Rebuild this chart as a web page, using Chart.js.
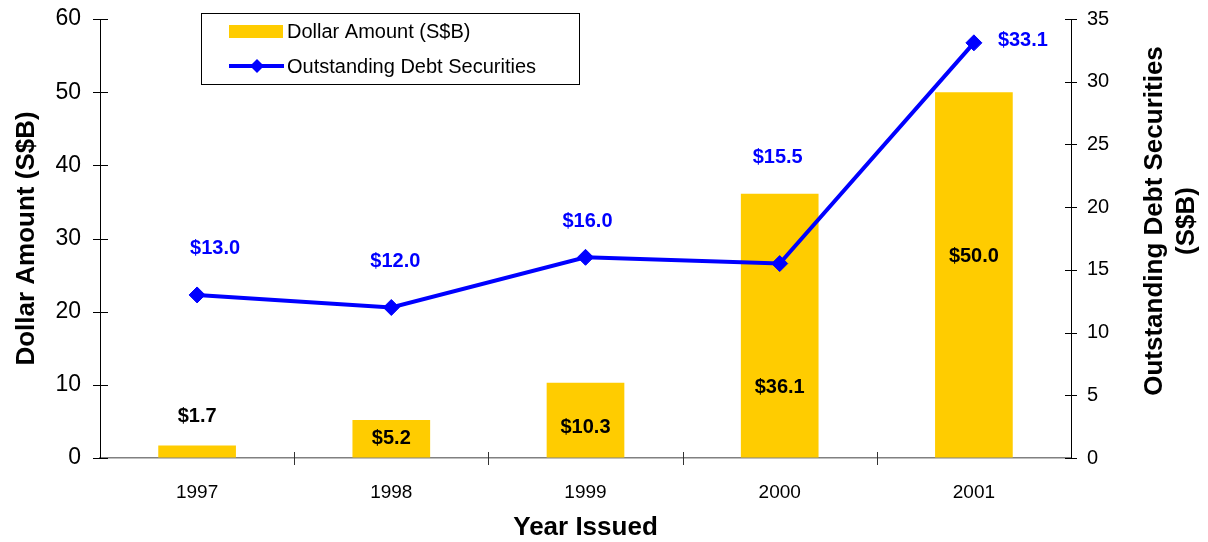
<!DOCTYPE html>
<html>
<head>
<meta charset="utf-8">
<script src="https://cdn.jsdelivr.net/npm/chart.js@4.4.1/dist/chart.umd.min.js"></script>
<style>
  html, body { margin: 0; padding: 0; background: #fff; }
  #wrap { width: 1208px; height: 542px; position: relative; }
</style>
</head>
<body>
<div id="wrap"><canvas id="chart"></canvas></div>
<script>
const FONT = "'Liberation Sans', Arial, sans-serif";

const years = ["1997", "1998", "1999", "2000", "2001"];
const dollarAmount = [1.7, 5.2, 10.3, 36.1, 50.0];
const outstandingDebt = [13.0, 12.0, 16.0, 15.5, 33.1];
const leftTicks = [0, 10, 20, 30, 40, 50, 60];
const rightTicks = [0, 5, 10, 15, 20, 25, 30, 35];

// where the value labels sit (bar labels: left-axis units, line labels: px offset)
const barLabelAt = [5.7, 2.7, 4.2, 9.6, 27.5];
const lineLabelShift = [[18, -46], [4, -46], [2, -36], [-2, -106], [49, -2]];

const COLORS = {
  bar: "#FFCC00",
  line: "#0000FF",
  text: "#000000",
  xAxis: "#808080"
};

const fmt = v => "$" + v.toFixed(1);

const extras = {
  id: "extras",
  afterDraw(chart) {
    const ctx = chart.ctx;
    const { left, right, top, bottom } = chart.chartArea;
    const yL = chart.scales.y;
    const yR = chart.scales.y1;
    ctx.save();

    // ticks crossing the axis lines
    ctx.lineWidth = 1;
    ctx.strokeStyle = "#000";
    ctx.beginPath();
    leftTicks.forEach(v => {
      const y = Math.round(yL.getPixelForValue(v)) + 0.5;
      ctx.moveTo(left - 7, y); ctx.lineTo(left + 8, y);
    });
    rightTicks.forEach(v => {
      const y = Math.round(yR.getPixelForValue(v)) + 0.5;
      ctx.moveTo(right - 6, y); ctx.lineTo(right + 6, y);
    });
    ctx.stroke();
    ctx.strokeStyle = "#333";
    ctx.beginPath();
    const step = (right - left) / years.length;
    for (let i = 1; i < years.length; i++) {
      const x = Math.round(left + i * step) + 0.5;
      ctx.moveTo(x, bottom - 6); ctx.lineTo(x, bottom + 7);
    }
    ctx.stroke();

    // value labels
    ctx.textAlign = "center";
    ctx.textBaseline = "middle";
    ctx.font = "bold 20px " + FONT;
    ctx.fillStyle = COLORS.text;
    chart.getDatasetMeta(1).data.forEach((bar, i) => {
      ctx.fillText(fmt(dollarAmount[i]), bar.x, yL.getPixelForValue(barLabelAt[i]));
    });
    ctx.fillStyle = COLORS.line;
    chart.getDatasetMeta(0).data.forEach((pt, i) => {
      const [dx, dy] = lineLabelShift[i];
      ctx.fillText(fmt(outstandingDebt[i]), pt.x + dx, pt.y + dy);
    });

    // axis titles
    ctx.fillStyle = COLORS.text;
    ctx.font = "bold 26px " + FONT;
    ctx.fillText("Year Issued", (left + right) / 2, 528);
    ctx.save();
    ctx.translate(27, (top + bottom) / 2);
    ctx.rotate(-Math.PI / 2);
    ctx.fillText("Dollar Amount (S$B)", 0, 0);
    ctx.restore();
    ctx.save();
    ctx.translate(1155, 221);
    ctx.rotate(-Math.PI / 2);
    ctx.fillText("Outstanding Debt Securities", 0, 0);
    ctx.fillText("(S$B)", 0, 32);
    ctx.restore();

    // legend
    ctx.strokeStyle = "#000";
    ctx.lineWidth = 1;
    ctx.strokeRect(201.5, 13.5, 378, 71);
    ctx.fillStyle = COLORS.bar;
    ctx.fillRect(229, 25, 54, 13);
    ctx.strokeStyle = COLORS.line;
    ctx.lineWidth = 4;
    ctx.beginPath();
    ctx.moveTo(229, 66); ctx.lineTo(284, 66);
    ctx.stroke();
    ctx.fillStyle = COLORS.line;
    ctx.beginPath();
    ctx.moveTo(257, 59); ctx.lineTo(264, 66); ctx.lineTo(257, 73); ctx.lineTo(250, 66);
    ctx.closePath();
    ctx.fill();
    ctx.fillStyle = COLORS.text;
    ctx.textAlign = "left";
    ctx.font = "20px " + FONT;
    ctx.fillText(chart.data.datasets[1].label, 287, 32);
    ctx.fillText(chart.data.datasets[0].label, 287, 67);

    ctx.restore();
  }
};

function fitY(width) {
  return s => {
    s.width = width;
    s.paddingTop = 0;
    s.paddingBottom = 0;
  };
}

new Chart(document.getElementById("chart"), {
  data: {
    labels: years,
    datasets: [
      {
        type: "line",
        label: "Outstanding Debt Securities",
        data: outstandingDebt,
        yAxisID: "y1",
        borderColor: COLORS.line,
        backgroundColor: COLORS.line,
        borderWidth: 4,
        tension: 0,
        pointStyle: "rectRot",
        pointRadius: 8,
        pointBorderWidth: 1,
        order: 0
      },
      {
        type: "bar",
        label: "Dollar Amount (S$B)",
        data: dollarAmount,
        yAxisID: "y",
        backgroundColor: COLORS.bar,
        borderWidth: 0,
        categoryPercentage: 1,
        barPercentage: 0.4,
        order: 1
      }
    ]
  },
  options: {
    animation: false,
    responsive: true,
    maintainAspectRatio: false,
    layout: { padding: { top: 19, left: 0, right: 0, bottom: 0 } },
    scales: {
      x: {
        grid: { display: true, drawOnChartArea: false, drawTicks: false },
        border: { color: COLORS.xAxis, width: 1.5 },
        ticks: { color: COLORS.text, font: { family: FONT, size: 19 }, padding: 23 },
        afterFit: s => { s.height = 84; s.paddingLeft = 0; s.paddingRight = 0; }
      },
      y: {
        position: "left",
        min: 0,
        max: 60,
        ticks: { stepSize: 10, color: COLORS.text, font: { family: FONT, size: 23 }, padding: 19 },
        grid: { drawOnChartArea: false, drawTicks: false },
        border: { color: "#000", width: 1 },
        afterFit: fitY(100)
      },
      y1: {
        position: "right",
        min: 0,
        max: 35,
        ticks: { stepSize: 5, color: COLORS.text, font: { family: FONT, size: 20 }, padding: 16 },
        grid: { drawOnChartArea: false, drawTicks: false },
        border: { color: "#000", width: 1 },
        afterFit: fitY(137)
      }
    },
    plugins: {
      legend: { display: false },
      tooltip: { enabled: false }
    }
  },
  plugins: [extras]
});
</script>
</body>
</html>
